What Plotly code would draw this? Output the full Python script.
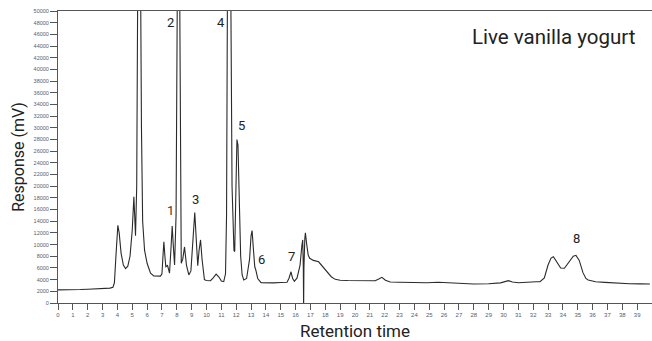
import plotly.graph_objects as go

# Chromatogram trace (retention time in min, response in mV); off-scale peaks exceed 50000
ret_time = [0.0, 0.5, 1.0, 1.5, 2.0, 2.5, 3.0, 3.5, 3.7, 3.8, 3.9, 3.97, 4.03, 4.12, 4.25, 4.4, 4.55, 4.7,
            4.85, 5.0, 5.11, 5.22, 5.3, 5.38, 5.55, 5.62, 5.7, 5.83, 6.0, 6.23, 6.45, 6.9, 7.0, 7.08, 7.13,
            7.2, 7.26, 7.32, 7.37, 7.44, 7.51, 7.6, 7.69, 7.76, 7.85, 7.95, 8.05, 8.18, 8.25, 8.3, 8.4, 8.52,
            8.65, 8.81, 8.95, 9.1, 9.21, 9.33, 9.41, 9.5, 9.6, 9.7, 9.86, 10.0, 10.27, 10.45, 10.65, 10.85,
            11.0, 11.16, 11.28, 11.35, 11.42, 11.62, 11.72, 11.85, 11.9, 11.97, 12.05, 12.12, 12.2, 12.3,
            12.4, 12.51, 12.7, 12.9, 13.0, 13.07, 13.15, 13.25, 13.32, 13.45, 13.67, 14.0, 14.5, 15.0,
            15.42, 15.55, 15.69, 15.8, 15.92, 16.1, 16.3, 16.42, 16.48, 16.52, 16.54, 16.56, 16.62, 16.66,
            16.75, 16.85, 16.95, 17.2, 17.55, 17.8, 18.11, 18.4, 18.67, 19.0, 19.5, 20.35, 21.0, 21.36,
            21.6, 21.81, 22.05, 22.37, 23.0, 24.0, 24.84, 25.6, 26.5, 27.3, 27.98, 29.0, 29.8, 30.33, 30.6,
            31.0, 31.5, 31.9, 32.2, 32.46, 32.75, 33.0, 33.2, 33.36, 33.6, 33.85, 34.1, 34.4, 34.7, 34.88,
            35.1, 35.35, 35.55, 35.7, 36.2, 36.83, 37.5, 38.5, 39.2, 39.86]
response = [2250, 2230, 2280, 2300, 2350, 2400, 2450, 2550, 2700, 3500, 8000, 12500, 13300, 12000, 8500, 6500,
            5900, 6300, 8000, 12500, 18200, 11500, 20000, 60000, 60000, 30000, 14000, 9000, 6800, 5100, 4650,
            4600, 5000, 8500, 10500, 8000, 6200, 6300, 6500, 5800, 5100, 9000, 13200, 10000, 6500, 15000,
            60000, 60000, 15000, 6800, 7500, 9600, 6500, 4800, 5500, 11000, 15500, 10000, 6400, 9000, 10800,
            7500, 4000, 3850, 3820, 4300, 4950, 4400, 3750, 3650, 5000, 15000, 60000, 60000, 20000, 9000,
            8800, 18000, 28000, 27000, 17000, 8000, 4800, 3950, 4200, 7500, 11500, 12400, 9500, 6200, 5650,
            4200, 3480, 3450, 3450, 3500, 3550, 4200, 5350, 4200, 3700, 4300, 6500, 9800, 10800, 6000, -800,
            6000, 11000, 12000, 10000, 8200, 7650, 7300, 7050, 6300, 5350, 4500, 4050, 3900, 3850, 3820,
            3800, 3820, 4100, 4400, 3900, 3600, 3550, 3500, 3480, 3550, 3400, 3300, 3250, 3300, 3450, 3820,
            3600, 3480, 3600, 3700, 3650, 3650, 4300, 6500, 7700, 7930, 7000, 6000, 5950, 7000, 8000, 8160,
            7300, 5200, 4200, 3950, 3650, 3540, 3400, 3300, 3280, 3250]

# Peak labels
peak_names = ["1", "2", "3", "4", "5", "6", "7", "8"]
peak_x = [7.6, 7.55, 9.25, 10.98, 12.33, 13.67, 15.75, 34.92]
peak_y = [15800, 47990, 17750, 47990, 30470, 7480, 7930, 11070]
peak_colors = ["#7a1f24", "#222222", "#222222", "#222222", "#222222", "#222222", "#222222", "#222222"]

x_ticks = list(range(0, 41))
y_ticks = list(range(0, 50001, 2000))

fig = go.Figure()
fig.add_trace(go.Scatter(x=ret_time, y=response, mode="lines",
                         line=dict(color="#2a2a2a", width=1.1), hoverinfo="skip", showlegend=False))

for n, px, py, c in zip(peak_names, peak_x, peak_y, peak_colors):
    fig.add_annotation(x=px, y=py, text=n, showarrow=False, xref="x", yref="y",
                       font=dict(family="Roboto", size=13, color=c))

fig.add_annotation(x=0.975, y=1 - (37 - 11) / 292, xref="paper", yref="paper", text="Live vanilla yogurt",
                   showarrow=False, xanchor="right", yanchor="middle",
                   font=dict(family="Roboto", size=20.5, color="#222222"))

fig.update_layout(
    template="none",
    width=652, height=341,
    margin=dict(l=58, r=0, t=11, b=38),
    paper_bgcolor="white", plot_bgcolor="white",
    xaxis=dict(range=[0, 40], tickmode="array", tickvals=x_ticks, ticktext=[str(v) for v in x_ticks],
               ticks="outside", ticklen=6, tickwidth=1, tickcolor="#555555",
               showline=True, linecolor="#555555", linewidth=1, mirror=True,
               showgrid=False, zeroline=False, automargin=False,
               tickfont=dict(family="Arial", size=6, color="#556070"),
               title=dict(text="Retention time", standoff=13,
                          font=dict(family="Roboto", size=17, color="#222222"))),
    yaxis=dict(range=[0, 50000], tickmode="array", tickvals=y_ticks, ticktext=[str(v) for v in y_ticks],
               ticks="outside", ticklen=7, tickwidth=1, tickcolor="#555555",
               showline=True, linecolor="#555555", linewidth=1,
               showgrid=False, zeroline=False, automargin=False,
               tickfont=dict(family="Arial", size=5.5, color="#556070"),
               title=dict(text="Response (mV)", standoff=5,
                          font=dict(family="Roboto", size=16, color="#222222"))),
)

fig.write_html("out.html")
